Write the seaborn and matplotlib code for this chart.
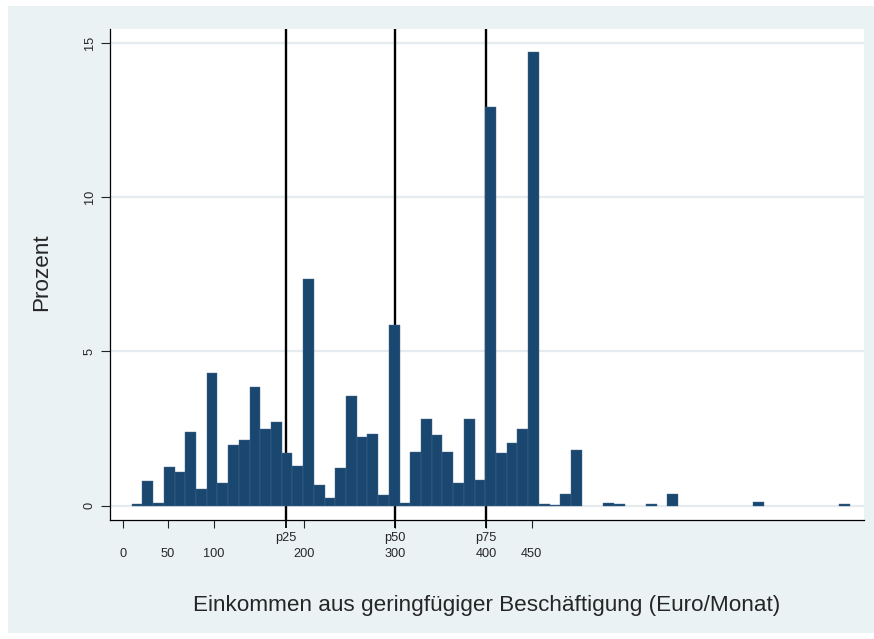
import numpy as np
import pandas as pd
import matplotlib
matplotlib.use("Agg")
import matplotlib.pyplot as plt
from matplotlib.patches import Rectangle
import seaborn as sns

# Histogram layout: 67 equal-width bins between the smallest and largest income
bin_start = 10
bin_end = 800
n_bins = 67

# Share of respondents per bin (percent)
percent = [
    0.05, 0.81, 0.10, 1.26, 1.08, 2.39, 0.53, 4.29, 0.72, 1.98,
    2.13, 3.85, 2.48, 2.71, 1.71, 1.28, 7.33, 0.68, 0.25, 1.23,
    3.56, 2.23, 2.32, 0.35, 5.84, 0.10, 1.73, 2.80, 2.28, 1.75,
    0.73, 2.80, 0.84, 12.92, 1.71, 2.02, 2.50, 14.69, 0.05, 0.03,
    0.37, 1.80, 0.00, 0.00, 0.09, 0.05, 0.00, 0.00, 0.05, 0.00,
    0.37, 0.00, 0.00, 0.00, 0.00, 0.00, 0.00, 0.00, 0.12, 0.00,
    0.00, 0.00, 0.00, 0.00, 0.00, 0.00, 0.05,
]

quartile_values = [180, 300, 400]
quartile_labels = ["p25", "p50", "p75"]
xtick_values = [0, 50, 100, 200, 300, 400, 450]
ytick_values = [0, 5, 10, 15]

edges = np.linspace(bin_start, bin_end, n_bins + 1)
centers = (edges[:-1] + edges[1:]) / 2
df = pd.DataFrame({"einkommen": centers, "prozent": percent})

sns.set_style("white")
plt.rcParams["font.family"] = ["Liberation Sans", "DejaVu Sans"]

W, H = 874, 639
fig = plt.figure(figsize=(W / 100, H / 100), dpi=100)
fig.patch.set_facecolor("white")
fig.patches.append(Rectangle((8 / W, 6 / H), (W - 8) / W, (H - 12) / H,
                             transform=fig.transFigure, facecolor="#EAF2F3",
                             edgecolor="none", zorder=-10))

left, right, top, bottom = 109.5, 864, 29, 520
ax = fig.add_axes([left / W, 1 - bottom / H, (right - left) / W, (bottom - top) / H])
ax.set_facecolor("white")

sns.histplot(data=df, x="einkommen", weights="prozent", bins=edges.tolist(),
             color="#1A476F", alpha=1, edgecolor="#46698E", linewidth=0.3,
             ax=ax, zorder=3)
for patch in ax.patches:
    if patch.get_height() == 0:
        patch.set_visible(False)

for q in quartile_values:
    ax.axvline(q, color="black", linewidth=1.7, zorder=2)

ax.set_xlim(-14.5, 815.9)
ax.set_ylim(-0.463, 15.44)

ax.set_axisbelow(True)
ax.yaxis.grid(True, color="#E4ECF0", linewidth=1.6)
ax.xaxis.grid(False)

# numeric ticks as major, quartile markers as minor ticks (kept even where they coincide)
ax.xaxis.remove_overlapping_locs = False
ax.set_xticks(xtick_values)
ax.set_xticklabels([str(v) for v in xtick_values])
ax.set_xticks(quartile_values, minor=True)
ax.set_xticklabels(quartile_labels, minor=True)
ax.tick_params(axis="x", which="major", length=5.8, width=0.8, pad=14.2,
               labelsize=9.2, color="#222222", bottom=True)
ax.tick_params(axis="x", which="minor", length=5.8, width=1.3, pad=2.8,
               labelsize=9.2, color="black", bottom=True)

ax.set_yticks(ytick_values)
ax.set_yticklabels([str(v) for v in ytick_values], rotation=90, va="center")
ax.tick_params(axis="y", which="major", length=6.5, width=0.8, pad=3.5,
               labelsize=9.2, color="#222222", left=True)

for side in ("top", "right"):
    ax.spines[side].set_visible(False)
for side in ("left", "bottom"):
    ax.spines[side].set_color("black")
    ax.spines[side].set_linewidth(0.9)

ax.set_xlabel("Einkommen aus geringfügiger Beschäftigung (Euro/Monat)", fontsize=16.2)
ax.xaxis.label.set_va("center")
ax.xaxis.set_label_coords(0.5, (bottom - 606) / (bottom - top))
ax.set_ylabel("Prozent", fontsize=16.2)
ax.yaxis.label.set_va("center")
ax.yaxis.set_label_coords((42 - left) / (right - left), 0.5 + 2 / (bottom - top))

fig.savefig("out.png", dpi=100, facecolor=fig.get_facecolor())
